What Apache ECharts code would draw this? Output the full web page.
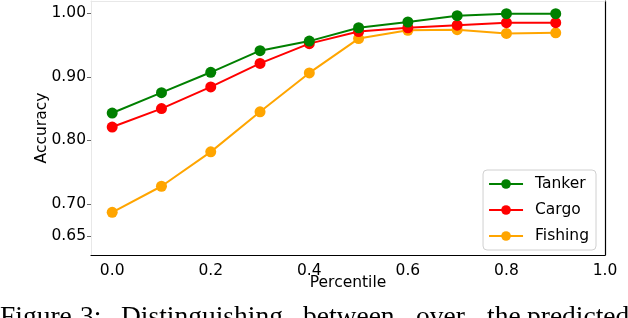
<!DOCTYPE html>
<html><head><meta charset="utf-8">
<script src="https://cdn.jsdelivr.net/npm/echarts@6/dist/echarts.min.js"></script>
<style>html,body{margin:0;padding:0;background:#fff}#c{width:628px;height:318px}</style>
</head><body><div id="c"></div>
<script>
const percentiles = [0.0, 0.1, 0.2, 0.3, 0.4, 0.5, 0.6, 0.7, 0.8, 0.9];
const tanker  = [0.843, 0.875, 0.907, 0.941, 0.956, 0.977, 0.986, 0.996, 0.999, 0.999];
const cargo   = [0.821, 0.850, 0.884, 0.921, 0.952, 0.971, 0.977, 0.981, 0.985, 0.985];
const fishing = [0.687, 0.728, 0.782, 0.845, 0.906, 0.960, 0.973, 0.974, 0.968, 0.969];
const xTicks = [0.0, 0.2, 0.4, 0.6, 0.8, 1.0];
const yTicks = [0.65, 0.70, 0.80, 0.90, 1.00];
const seriesNames = ['Tanker', 'Cargo', 'Fishing'];
const seriesColors = ['#008000', '#ff0000', '#ffa500'];
const seriesValues = [tanker, cargo, fishing];
const captionWords = ['Figure', '3:', 'Distinguishing', 'between', 'over', 'the', 'predicted'];
const captionLeft = [0, 80, 121, 303, 416, 487, 527];

const font = 'DejaVu Sans';
const chart = echarts.init(document.getElementById('c'), null, {renderer: 'canvas'});
chart.setOption({
  animation: false,
  grid: {left: 91, right: 23, top: 1, bottom: 63, containLabel: false},
  xAxis: [{
    type: 'value', min: -0.043, max: 1.0,
    axisLine: {show: true, onZero: false, lineStyle: {color: '#000', width: 1.2}},
    axisTick: {show: false},
    splitLine: {show: false},
    axisLabel: {customValues: xTicks, formatter: v => v.toFixed(1), color: '#000', fontFamily: font, fontSize: 15.5, margin: 8},
    name: 'Percentile', nameLocation: 'middle', nameGap: 20, nameMoveOverlap: false,
    nameTextStyle: {color: '#000', fontFamily: font, fontSize: 15.5}
  }, {
    type: 'value', position: 'top', min: -0.043, max: 1.0,
    axisLine: {show: true, onZero: false, lineStyle: {color: '#e8e8e8', width: 1}},
    axisTick: {show: false}, axisLabel: {show: false}, splitLine: {show: false}
  }],
  yAxis: [{
    type: 'value', min: 0.62, max: 1.019,
    axisLine: {show: true, onZero: false, lineStyle: {color: '#e8e8e8', width: 1}},
    axisTick: {show: true, customValues: yTicks, length: 4, lineStyle: {color: '#666'}},
    splitLine: {show: false},
    axisLabel: {customValues: yTicks, formatter: v => v.toFixed(2), color: '#000', fontFamily: font, fontSize: 15.5, margin: 5},
    name: 'Accuracy', nameLocation: 'middle', nameGap: 41, nameRotate: 90, nameMoveOverlap: false,
    nameTextStyle: {color: '#000', fontFamily: font, fontSize: 15.5}
  }, {
    type: 'value', position: 'right', min: 0.62, max: 1.019,
    axisLine: {show: true, onZero: false, lineStyle: {color: '#000', width: 1.2}},
    axisTick: {show: false}, axisLabel: {show: false}, splitLine: {show: false}
  }],
  legend: {
    orient: 'vertical', right: 32, top: 170,
    data: seriesNames,
    itemWidth: 34, itemHeight: 12, itemGap: 10,
    padding: [6, 7, 6, 5],
    backgroundColor: '#fff', borderColor: '#d0d0d0', borderWidth: 1, borderRadius: 4,
    textStyle: {color: '#000', fontFamily: font, fontSize: 15.5, padding: [0, 0, 0, 7]}
  },
  series: seriesNames.map((n, i) => ({
    name: n, type: 'line',
    data: percentiles.map((x, j) => [x, seriesValues[i][j]]),
    color: seriesColors[i],
    symbol: 'circle', symbolSize: 11,
    lineStyle: {width: 2, color: seriesColors[i]},
    itemStyle: {color: seriesColors[i]},
    z: 3 - i
  })),
  graphic: captionWords.map((w, i) => ({
    type: 'text', left: captionLeft[i], top: 304,
    style: {text: w, fill: '#000', font: '27.5px "Liberation Serif"'}
  }))
});
</script></body></html>
